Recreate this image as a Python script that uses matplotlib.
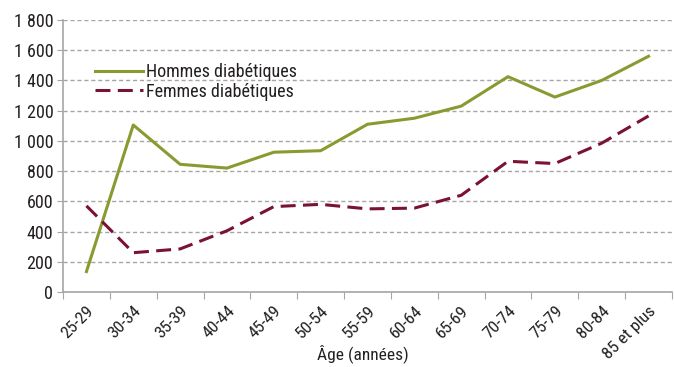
import matplotlib
matplotlib.use("Agg")
import matplotlib.pyplot as plt

# Number of people with diabetes, by age group and sex
age_groups = ["25-29", "30-34", "35-39", "40-44", "45-49", "50-54", "55-59",
              "60-64", "65-69", "70-74", "75-79", "80-84", "85 et plus"]
hommes = [135, 1105, 845, 820, 925, 935, 1110, 1150, 1230, 1425, 1290, 1400, 1560]
femmes = [570, 260, 285, 405, 565, 580, 550, 555, 640, 865, 850, 985, 1165]
y_ticks = [0, 200, 400, 600, 800, 1000, 1200, 1400, 1600, 1800]
y_tick_labels = ["0", "200", "400", "600", "800", "1 000", "1 200", "1 400", "1 600", "1 800"]

plt.rcParams["font.family"] = ["Roboto Condensed", "DejaVu Sans"]

green = "#8a9a30"
maroon = "#7a1232"
grid_gray = "#a6a6a6"
text_color = "#231f20"

fig = plt.figure(figsize=(6.74, 3.67), dpi=100)
ax = fig.add_axes([0.0935, 0.2044, 0.9035, 0.7411])

x = list(range(len(age_groups)))
ax.plot(x, hommes, color=green, lw=2.2, label="Hommes diabétiques")
ax.plot(x, femmes, color=maroon, lw=2.2, dashes=(4.9, 2.4),
        label="Femmes diabétiques")

ax.set_xlim(-0.5, len(age_groups) - 0.5)
ax.set_ylim(0, 1800)
ax.set_yticks(y_ticks)
ax.set_yticklabels(y_tick_labels, fontsize=13, color=text_color)
ax.tick_params(axis="y", length=4, color=grid_gray, pad=3)

# tick marks sit on the category boundaries, labels on the category centres
ax.set_xticks([i - 0.5 for i in range(len(age_groups) + 1)])
ax.set_xticklabels([])
ax.set_xticks(x, minor=True)
ax.set_xticklabels(age_groups, minor=True, rotation=45, ha="right",
                   rotation_mode="anchor", fontsize=12.5, color=text_color)
ax.tick_params(axis="x", which="major", length=5, color=grid_gray, direction="out")
ax.tick_params(axis="x", which="minor", length=0, pad=8)

ax.yaxis.grid(True, color=grid_gray, ls=(0, (3, 2)), lw=1)
ax.set_axisbelow(True)
for side in ("top", "right"):
    ax.spines[side].set_visible(False)
for side in ("left", "bottom"):
    ax.spines[side].set_color(grid_gray)
    ax.spines[side].set_linewidth(1.2)

ax.set_xlabel("Âge (années)", fontsize=12.5, color=text_color)
ax.xaxis.set_label_coords(0.492, -0.19)

leg = ax.legend(loc="center left", bbox_to_anchor=(0.052, 0.772), frameon=False,
                fontsize=13, handlelength=2.65, handletextpad=0.2,
                labelspacing=0.08, borderaxespad=0, borderpad=0)
for t in leg.get_texts():
    t.set_color(text_color)

fig.savefig("out.png", dpi=100)
